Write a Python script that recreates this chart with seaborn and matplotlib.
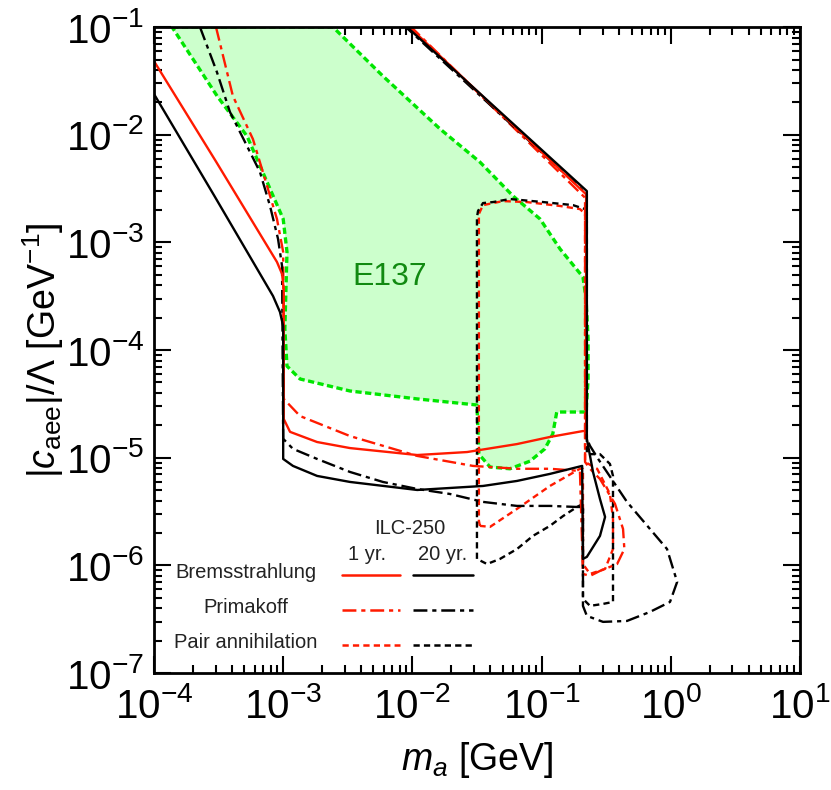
import matplotlib
matplotlib.use('Agg')
import matplotlib.pyplot as plt
from matplotlib.ticker import NullFormatter
import pandas as pd
import seaborn as sns

# ---- E137 excluded region -------------------------------------------------
e137_m = [1.38e-4, 2.43e-3, 5.91e-3, 1.64e-2, 3.33e-2, 6.01e-2, 9.73e-2, 0.139,
          0.209, 0.221, 0.229, 0.229, 0.221, 0.131, 0.122, 0.106, 0.0813,
          0.0569, 0.0399, 0.0327, 0.0316, 0.0109, 3.29e-3, 1.35e-3, 1.07e-3,
          1.03e-3, 1.07e-3, 1.0e-3, 7.5e-4, 5.25e-4, 3.08e-4, 1.38e-4]
e137_c = [0.1, 0.1, 3.51e-2, 1.13e-2, 5.58e-3, 2.70e-3, 1.65e-3, 8.69e-4,
          4.77e-4, 2.98e-4, 1.27e-4, 5.39e-5, 2.66e-5, 2.66e-5, 1.66e-5,
          1.21e-5, 9.3e-6, 7.9e-6, 8.2e-6, 1.08e-5, 3.09e-5, 3.52e-5, 4.17e-5,
          5.39e-5, 7.1e-5, 1.57e-4, 8.15e-4, 1.65e-3, 3.64e-3, 9.7e-3,
          2.29e-2, 0.1]

# ---- Bremsstrahlung -------------------------------------------------------
brem1_m = [1.0e-4, 3.02e-4, 8.95e-4, 9.8e-4, 1.01e-3, 1.01e-3, 1.13e-3, 1.83e-3,
           3.29e-3, 1.09e-2, 2.65e-2, 6.45e-2, 0.116, 0.209, 0.221, 0.221,
           9.5e-3]
brem1_c = [4.83e-2, 5.64e-3, 6.58e-4, 5.09e-4, 3.69e-4, 2.29e-5, 1.74e-5,
           1.40e-5, 1.23e-5, 1.06e-5, 1.13e-5, 1.34e-5, 1.56e-5, 1.77e-5,
           1.77e-5, 2.8e-3, 0.1]

brem20_m = [1.0e-4, 2.91e-4, 8.34e-4, 9.44e-4, 1.0e-3, 1.0e-3, 1.19e-3, 1.83e-3,
            3.29e-3, 1.09e-2, 3.52e-2, 6.45e-2, 0.116, 0.206, 0.209, 0.224,
            0.283, 0.310, 0.283, 0.250, 0.224, 0.224, 9.1e-3]
brem20_c = [2.39e-2, 2.75e-3, 3.18e-4, 2.26e-4, 1.67e-4, 9.75e-6, 8.4e-6,
            6.78e-6, 5.96e-6, 5.02e-6, 5.47e-6, 6.09e-6, 7.08e-6, 8.4e-6,
            1.15e-6, 1.20e-6, 1.88e-6, 2.82e-6, 4.14e-6, 7.38e-6, 1.50e-5,
            3.0e-3, 0.1]

# ---- Primakoff ------------------------------------------------------------
prim1_m = [3.02e-4, 4.08e-4, 5.83e-4, 7.23e-4, 8.95e-4, 1.0e-3, 1.01e-3,
           1.35e-3, 3.29e-3, 1.09e-2, 2.94e-2, 6.45e-2, 0.116, 0.198, 0.209,
           0.237, 0.283, 0.384, 0.437, 0.427, 0.370, 0.283, 0.237, 0.217,
           0.217, 9.8e-3]
prim1_c = [0.1, 2.29e-2, 9.12e-3, 3.88e-3, 1.65e-3, 8.15e-4, 3.52e-5, 2.44e-5,
           1.59e-5, 1.04e-5, 8.4e-6, 7.9e-6, 7.9e-6, 7.54e-6, 8.34e-7,
           7.99e-7, 8.89e-7, 1.03e-6, 1.42e-6, 2.18e-6, 3.73e-6, 6.35e-6,
           7.9e-6, 9.14e-6, 2.6e-3, 0.1]

prim20_m = [2.27e-4, 3.07e-4, 3.87e-4, 5.25e-4, 6.61e-4, 7.91e-4, 9.12e-4,
            9.8e-4, 1.0e-3, 1.19e-3, 1.83e-3, 3.29e-3, 5.91e-3, 1.09e-2,
            1.95e-2, 3.52e-2, 6.45e-2, 0.116, 0.188, 0.209, 0.209, 0.224,
            0.299, 0.458, 0.690, 0.986, 1.12, 0.935, 0.690, 0.458, 0.274,
            0.237, 0.224, 0.224, 8.9e-3]
prim20_c = [0.1, 3.82e-2, 1.63e-2, 7.85e-3, 4.51e-3, 2.18e-3, 1.08e-3,
            6.04e-4, 1.50e-5, 1.21e-5, 9.75e-6, 7.38e-6, 5.96e-6, 5.13e-6,
            4.61e-6, 3.89e-6, 3.57e-6, 3.57e-6, 3.49e-6, 3.49e-6, 4.21e-7,
            3.40e-7, 2.99e-7, 3.05e-7, 3.70e-7, 4.58e-7, 7.03e-7, 1.42e-6,
            2.18e-6, 3.89e-6, 9.75e-6, 1.29e-5, 1.50e-5, 2.81e-3, 0.1]

# ---- Pair annihilation ----------------------------------------------------
pair1_m = [3.33e-2, 3.27e-2, 3.27e-2, 3.52e-2, 5.02e-2, 7.71e-2, 0.139, 0.198,
           0.217, 0.217, 0.269, 0.338, 0.357, 0.357, 0.310, 0.237, 0.209,
           0.209, 0.198, 0.116, 6.45e-2, 3.99e-2, 3.33e-2]
pair1_c = [2.33e-6, 2.6e-6, 1.84e-3, 2.22e-3, 2.42e-3, 2.37e-3, 2.18e-3,
           2.04e-3, 1.84e-3, 9.14e-6, 7.9e-6, 4.61e-6, 2.70e-6, 1.42e-6,
           9.28e-7, 8.34e-7, 1.03e-6, 7.9e-6, 7.9e-6, 5.47e-6, 3.35e-6,
           2.28e-6, 2.33e-6]

pair20_m = [3.16e-2, 3.16e-2, 3.22e-2, 3.52e-2, 4.21e-2, 5.69e-2, 0.103, 0.175,
            0.217, 0.224, 0.224, 0.283, 0.338, 0.357, 0.357, 0.299, 0.237,
            0.209, 0.209, 0.188, 0.147, 0.116, 8.57e-2, 6.45e-2, 4.77e-2,
            3.78e-2, 3.16e-2]
pair20_c = [1.15e-6, 1.7e-3, 1.96e-3, 2.32e-3, 2.37e-3, 2.53e-3, 2.37e-3,
            2.22e-3, 2.04e-3, 1.84e-3, 1.08e-5, 1.08e-5, 8.76e-6, 6.78e-6,
            4.58e-7, 4.39e-7, 4.21e-7, 4.89e-7, 3.73e-6, 3.49e-6, 2.88e-6,
            2.33e-6, 1.88e-6, 1.42e-6, 1.15e-6, 1.03e-6, 1.15e-6]

RED = '#ff1a00'
BLACK = '#000000'
GREEN_LINE = '#00e600'
GREEN_FILL = '#ccffcc'
GREEN_TEXT = '#118a11'

DASH_PRIM = (10, 3.5, 3, 3.5)
DASH_PAIR = (4.5, 3)
DASH_E137 = (4.5, 2.5)

sns.set_theme(style='ticks')
plt.rcParams['font.family'] = ['Liberation Sans', 'DejaVu Sans']
plt.rcParams['mathtext.fontset'] = 'custom'
plt.rcParams['mathtext.rm'] = 'Liberation Sans'
plt.rcParams['mathtext.it'] = 'Liberation Sans:italic'
plt.rcParams['lines.scale_dashes'] = False
for key in ('text.color', 'axes.labelcolor', 'xtick.color', 'ytick.color',
            'xtick.labelcolor', 'ytick.labelcolor'):
    plt.rcParams[key] = 'black'


def draw_curve(ax, m, c, color, dashes=None, lw=1.7, zorder=3):
    frame = pd.DataFrame({'m': m, 'c': c})
    sns.lineplot(data=frame, x='m', y='c', sort=False, estimator=None,
                 color=color, lw=lw, ax=ax, zorder=zorder)
    line = ax.lines[-1]
    if dashes:
        line.set_dashes(dashes)
    return line


fig = plt.figure(figsize=(8.31, 7.90), dpi=100)
ax = fig.add_axes([0.1853, 0.148, 0.7774, 0.8177])
ax.set_xscale('log')
ax.set_yscale('log')

ax.fill(e137_m, e137_c, facecolor=GREEN_FILL, edgecolor='none', zorder=1)
draw_curve(ax, e137_m, e137_c, GREEN_LINE, DASH_E137, lw=2.4, zorder=2)

draw_curve(ax, pair1_m, pair1_c, RED, DASH_PAIR)
draw_curve(ax, pair20_m, pair20_c, BLACK, DASH_PAIR)
draw_curve(ax, prim1_m, prim1_c, RED, DASH_PRIM)
draw_curve(ax, prim20_m, prim20_c, BLACK, DASH_PRIM)
draw_curve(ax, brem1_m, brem1_c, RED)
draw_curve(ax, brem20_m, brem20_c, BLACK)

ax.text(6.7e-3, 4.77e-4, 'E137', color=GREEN_TEXT, fontsize=23,
        ha='center', va='center', zorder=5)

# hand-made legend block
tr = ax.transAxes
ax.text(0.396, 0.224, 'ILC-250', transform=tr, fontsize=14.5,
        ha='center', va='center', color='#222222')
ax.text(0.330, 0.183, '1 yr.', transform=tr, fontsize=14.5,
        ha='center', va='center', color='#222222')
ax.text(0.447, 0.183, '20 yr.', transform=tr, fontsize=14.5,
        ha='center', va='center', color='#222222')
rows = [('Bremsstrahlung', 0.152, None),
        ('Primakoff', 0.097, DASH_PRIM),
        ('Pair annihilation', 0.043, DASH_PAIR)]
for label, ypos, dashes in rows:
    ax.text(0.142, ypos + 0.004, label, transform=tr, fontsize=14.5,
            ha='center', va='center', color='#222222')
    for x0, x1, col in [(0.291, 0.381, RED), (0.401, 0.494, BLACK)]:
        ln, = ax.plot([x0, x1], [ypos, ypos], color=col, lw=1.8,
                      transform=tr, zorder=5)
        if dashes:
            ln.set_dashes(dashes)

ax.set_xlim(1e-4, 10)
ax.set_ylim(1e-7, 1e-1)
ax.xaxis.set_minor_formatter(NullFormatter())
ax.yaxis.set_minor_formatter(NullFormatter())
ax.tick_params(which='both', direction='in', top=True, right=True,
               width=1.5, color='black', labelsize=29)
ax.tick_params(axis='x', pad=10)
ax.tick_params(axis='y', pad=7)
ax.tick_params(which='major', length=12)
ax.tick_params(which='minor', length=6)
for spine in ax.spines.values():
    spine.set_linewidth(2)
    spine.set_color('black')
    spine.set_zorder(6)

ax.set_xlabel(r'$m_a$ [GeV]', fontsize=27, labelpad=10)
ax.set_ylabel(r'$|c_{\rm aee}|/\Lambda$ [GeV$^{-1}$]', fontsize=27,
              labelpad=0)

fig.savefig('out.png', dpi=100)
